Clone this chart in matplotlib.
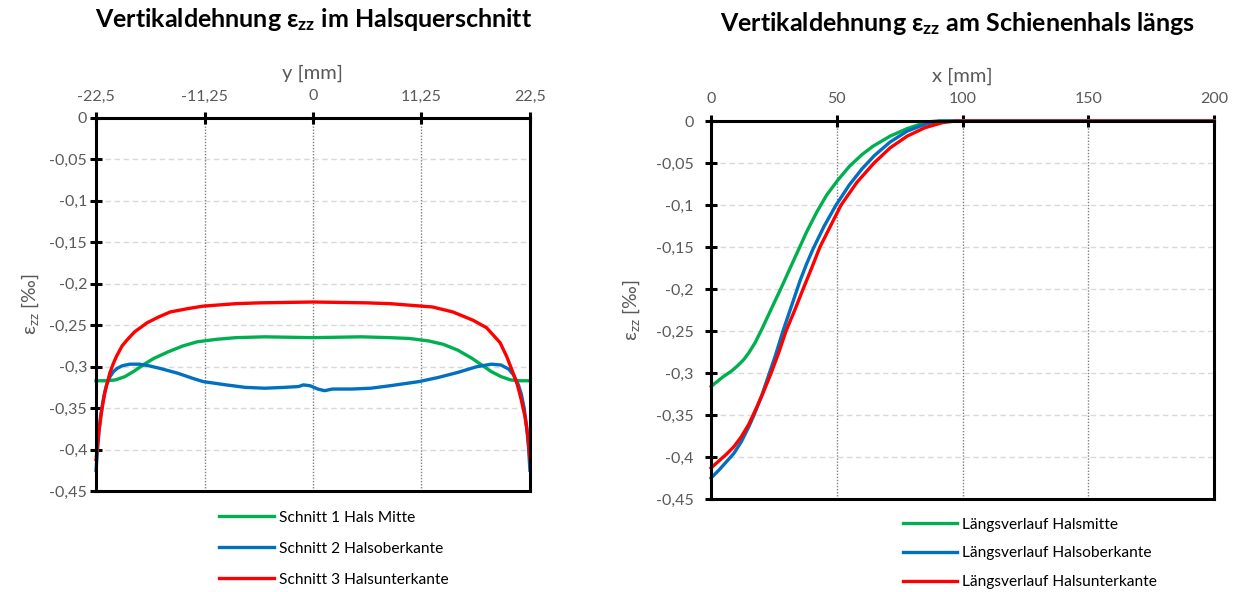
import matplotlib
matplotlib.use("Agg")
import matplotlib.pyplot as plt

plt.rcParams["font.family"] = ["Lato", "DejaVu Sans"]
plt.rcParams["mathtext.fontset"] = "custom"
plt.rcParams["mathtext.rm"] = "Lato"
plt.rcParams["mathtext.it"] = "Lato"
plt.rcParams["mathtext.bf"] = "Lato:bold"

GREEN = "#00B050"
BLUE = "#0070C0"
RED = "#FF0000"
GRAY_TXT = "#595959"

# --- left chart: cross section of the rail neck ---
y_green = [-22.5, -21.5, -20.5, -19.5, -18.5, -17.5, -16.5, -15, -13.5, -12, -10, -8, -5,
           0, 5, 8, 10, 12, 13.5, 15, 16.5, 17.5, 18.5, 19.5, 20.5, 21.5, 22.5]
eps_green = [-0.317, -0.317, -0.316, -0.312, -0.305, -0.297, -0.290, -0.282, -0.275, -0.270,
             -0.267, -0.265, -0.264, -0.265, -0.264, -0.265, -0.266, -0.269, -0.273, -0.280,
             -0.290, -0.298, -0.306, -0.312, -0.316, -0.317, -0.317]

y_blue = [-22.5, -22.35, -22.2, -22.0, -21.8, -21.6, -21.4, -21.05, -20.7, -20.3, -19.8,
          -19.0, -18.0, -17, -15.9, -14, -12.5, -11.4, -9, -7, -5, -3, -1.5, -1.0, -0.3, 0.5,
          1.2, 2, 4, 6, 8, 11, 13, 15, 17, 18.5, 19.5, 20.3, 20.8, 21.3, 21.6, 21.9, 22.15,
          22.35, 22.5]
eps_blue = [-0.425, -0.400, -0.378, -0.358, -0.343, -0.331, -0.322, -0.312, -0.306, -0.302,
            -0.299, -0.297, -0.297, -0.299, -0.302, -0.308, -0.314, -0.318, -0.322, -0.325,
            -0.326, -0.325, -0.324, -0.322, -0.323, -0.327, -0.329, -0.327, -0.327, -0.326,
            -0.323, -0.318, -0.313, -0.307, -0.300, -0.297, -0.298, -0.303, -0.310, -0.322,
            -0.333, -0.350, -0.372, -0.397, -0.425]

y_red = [-22.5, -22.35, -22.2, -22.0, -21.8, -21.6, -21.4, -21.05, -20.7, -20.4, -19.8,
         -19.3, -18.5, -17.2, -16, -14.8, -13, -11.4, -8, -5.5, 0, 5.5, 8, 11.3, 12.4, 14.5,
         16.6, 18.0, 19.4, 20.1, 20.7, 21.2, 21.6, 21.98, 22.3, 22.5]
eps_red = [-0.412, -0.395, -0.378, -0.360, -0.345, -0.332, -0.322, -0.307, -0.296, -0.288,
           -0.275, -0.268, -0.258, -0.247, -0.240, -0.234, -0.230, -0.227, -0.224, -0.223,
           -0.222, -0.223, -0.224, -0.227, -0.228, -0.234, -0.244, -0.253, -0.271, -0.288,
           -0.306, -0.322, -0.340, -0.360, -0.385, -0.412]

# --- right chart: along the rail neck ---
x_mid = [0, 2.5, 5, 8, 10.7, 13, 15, 17.5, 20, 22.5, 25, 28.6, 31, 34.2, 38, 42.1, 46,
         50.5, 55, 60, 64.4, 71.2, 78, 84, 88, 90, 200]
eps_mid = [-0.316, -0.310, -0.304, -0.298, -0.291, -0.284, -0.276, -0.264, -0.249, -0.233,
           -0.217, -0.194, -0.178, -0.157, -0.132, -0.108, -0.088, -0.070, -0.054, -0.040,
           -0.030, -0.018, -0.009, -0.003, -0.0005, 0.0, 0.0]

x_top = [0, 3, 6, 9, 12, 15, 17.1, 20, 22.3, 25.5, 28.6, 32, 35.4, 38, 40.6, 45, 49.7,
         55, 60, 65, 71.2, 78, 85, 91, 200]
eps_top = [-0.425, -0.416, -0.406, -0.396, -0.382, -0.364, -0.350, -0.328, -0.308, -0.280,
           -0.250, -0.220, -0.190, -0.170, -0.152, -0.125, -0.100, -0.076, -0.057, -0.041,
           -0.025, -0.012, -0.004, 0.0, 0.0]

x_bot = [0, 3, 6, 9, 12, 15, 17.5, 20.5, 23.9, 27, 29.8, 33.3, 36.6, 40, 43.3, 47.5, 51.7,
         58, 64.8, 71.2, 78, 85, 92, 97, 200]
eps_bot = [-0.413, -0.405, -0.397, -0.388, -0.376, -0.361, -0.345, -0.325, -0.300, -0.275,
           -0.250, -0.225, -0.200, -0.175, -0.150, -0.125, -0.100, -0.073, -0.050, -0.032,
           -0.018, -0.008, -0.002, 0.0, 0.0]

y_ticks_left = [-22.5, -11.25, 0, 11.25, 22.5]
y_tick_labels_left = ["-22,5", "-11,25", "0", "11,25", "22,5"]
x_ticks_right = [0, 50, 100, 150, 200]
x_tick_labels_right = ["0", "50", "100", "150", "200"]
eps_ticks = [0, -0.05, -0.1, -0.15, -0.2, -0.25, -0.3, -0.35, -0.4, -0.45]
eps_tick_labels = ["0", "-0,05", "-0,1", "-0,15", "-0,2", "-0,25", "-0,3", "-0,35", "-0,4", "-0,45"]


def style_axes(ax, xticks, xlabels, xlim, xlabel, ypad, ylabelpad):
    ax.set_xlim(*xlim)
    ax.set_ylim(-0.45, 0)
    ax.xaxis.set_ticks_position("top")
    ax.xaxis.set_label_position("top")
    ax.set_xticks(xticks)
    ax.set_xticklabels(xlabels)
    ax.set_yticks(eps_ticks)
    ax.set_yticklabels(eps_tick_labels)
    ax.tick_params(axis="both", direction="inout", length=9, width=2.2, color="black",
                   labelsize=11.5, labelcolor=GRAY_TXT)
    ax.tick_params(axis="x", pad=6)
    ax.tick_params(axis="y", pad=ypad)
    for side in ["left", "right", "bottom", "top"]:
        ax.spines[side].set_linewidth(2.2)
        ax.spines[side].set_color("black")
    for v in eps_ticks[1:-1]:
        ax.axhline(v, color="#D9D9D9", linestyle=(0, (4, 2.5)), linewidth=1.0, zorder=0)
    for v in xticks[1:-1]:
        ax.axvline(v, color="#808080", linestyle=(0, (1, 1.2)), linewidth=1.0, zorder=0)
    ax.set_xlabel(xlabel, fontsize=14.5, color=GRAY_TXT, labelpad=8)
    ax.set_ylabel(r"$\mathregular{ε_{zz}}$ [‰]", fontsize=14, color=GRAY_TXT,
                  labelpad=ylabelpad)


fig = plt.figure(figsize=(12.33, 5.92), dpi=100)
ax1 = fig.add_axes([0.0779, 0.1706, 0.3519, 0.6301])
ax2 = fig.add_axes([0.5767, 0.1571, 0.4079, 0.6385])

lw = 2.4
ax1.plot(y_green, eps_green, color=GREEN, lw=lw, label="Schnitt 1 Hals Mitte")
ax1.plot(y_blue, eps_blue, color=BLUE, lw=lw, label="Schnitt 2 Halsoberkante")
ax1.plot(y_red, eps_red, color=RED, lw=lw, label="Schnitt 3 Halsunterkante")
style_axes(ax1, y_ticks_left, y_tick_labels_left, (-22.5, 22.5), "y [mm]", 2, 6)

ax2.plot(x_mid, eps_mid, color=GREEN, lw=lw, label="Längsverlauf Halsmitte")
ax2.plot(x_top, eps_top, color=BLUE, lw=lw, label="Längsverlauf Halsoberkante")
ax2.plot(x_bot, eps_bot, color=RED, lw=lw, label="Längsverlauf Halsunterkante")
style_axes(ax2, x_ticks_right, x_tick_labels_right, (0, 200), "x [mm]", 8, 10)

for ax in (ax1, ax2):
    for ln in ax.get_lines():
        ln.set_clip_on(False)

fig.text(0.254, 0.967, r"Vertikaldehnung $\mathbf{ε_{zz}}$ im Halsquerschnitt",
         ha="center", va="center", fontsize=18, fontweight="bold")
fig.text(0.7766, 0.960, r"Vertikaldehnung $\mathbf{ε_{zz}}$ am Schienenhals längs",
         ha="center", va="center", fontsize=18, fontweight="bold")

ax1.legend(loc="upper left", bbox_to_anchor=(0.252, -0.015), frameon=False, fontsize=11.2,
           handlelength=3.5, handletextpad=0.3, labelspacing=1.1)
ax2.legend(loc="upper left", bbox_to_anchor=(0.353, -0.012), frameon=False, fontsize=11.2,
           handlelength=3.5, handletextpad=0.3, labelspacing=0.95)

fig.savefig("out.png", dpi=100)
